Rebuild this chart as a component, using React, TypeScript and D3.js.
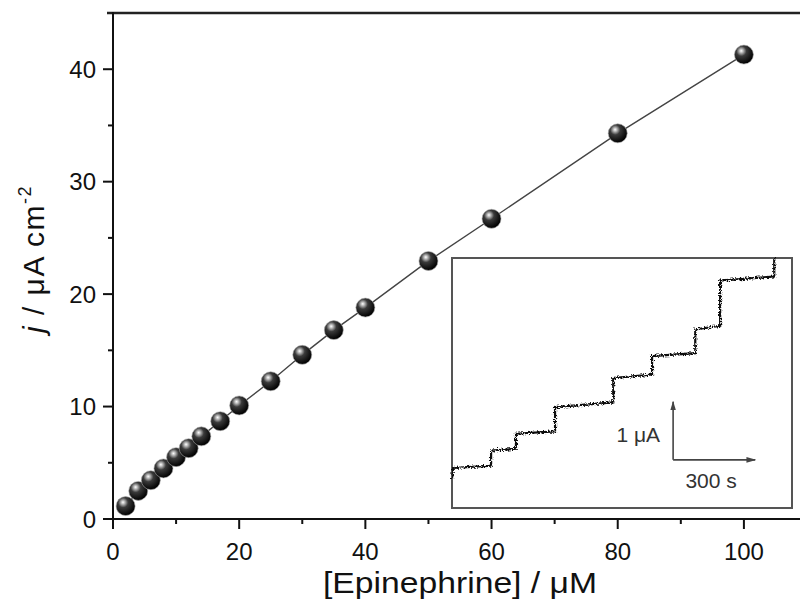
import React from "react";
import * as d3 from "d3";

// Main calibration data: [Epinephrine] (µM) vs current density j (µA cm^-2)
const concentrations = [2, 4, 6, 8, 10, 12, 14, 17, 20, 25, 30, 35, 40, 50, 60, 80, 100];
const currentDensity = [1.15, 2.5, 3.45, 4.5, 5.5, 6.3, 7.35, 8.7, 10.1, 12.25, 14.6, 16.8, 18.8, 22.95, 26.7, 34.3, 41.3];

const xMajorTicks = [0, 20, 40, 60, 80, 100];
const xMinorTicks = [10, 30, 50, 70, 90];
const yMajorTicks = [0, 10, 20, 30, 40];
const yMinorTicks = [5, 15, 25, 35];

// Inset amperometric trace (time s, current µA)
const stepTimes = [0, 143, 234, 377, 590, 732, 890, 981];
const stepEndTimes = [143, 234, 377, 590, 732, 890, 981, 1179];
const levelStart = [0.17, 0.47, 0.76, 1.22, 1.72, 2.10, 2.56, 3.40];
const levelEnd = [0.21, 0.50, 0.80, 1.30, 1.78, 2.15, 2.62, 3.47];
const traceStart = -0.02;
const traceFinal = 3.79;
const scaleBarTime = 809;
const scaleBarCurrent = 0.31;

export default function App() {
  const x = d3.scaleLinear().domain([0, 110]).range([113, 807]);
  const y = d3.scaleLinear().domain([0, 45]).range([519, 13]);

  const ix = d3.scaleLinear().domain([0, 1244]).range([452, 792]);
  const iy = d3.scaleLinear().domain([-0.52, 3.79]).range([508, 258]);

  const pts = concentrations.map((c, i) => [c, currentDensity[i]] as [number, number]);
  const line = d3
    .line<[number, number]>()
    .x((d) => x(d[0]))
    .y((d) => y(d[1]));

  // build inset trace
  const tracePts: [number, number][] = [[0, traceStart]];
  stepTimes.forEach((t, i) => {
    tracePts.push([t + (i === 0 ? 4 : 0), levelStart[i]]);
    tracePts.push([stepEndTimes[i], levelEnd[i]]);
  });
  tracePts.push([stepEndTimes[stepEndTimes.length - 1], traceFinal]);
  const traceLine = d3
    .line<[number, number]>()
    .x((d) => ix(d[0]))
    .y((d) => iy(d[1]));

  const font = "'Liberation Sans', Arial, Helvetica, sans-serif";

  const sbX = ix(scaleBarTime);
  const sbY = iy(scaleBarCurrent);
  const sbTop = iy(scaleBarCurrent + 1);
  const sbRight = ix(scaleBarTime + 300);

  return (
    <svg
      width={800}
      height={602}
      style={{ position: "absolute", left: 0, top: 0, background: "#fff" }}
      fontFamily={font}
    >
      <defs>
        <radialGradient id="sphere" cx="38%" cy="34%" r="66%" fx="36%" fy="30%">
          <stop offset="0%" stopColor="#ffffff" />
          <stop offset="14%" stopColor="#bdbdbd" />
          <stop offset="40%" stopColor="#3a3a3a" />
          <stop offset="100%" stopColor="#000000" />
        </radialGradient>
        <filter id="noise" x="-5%" y="-5%" width="110%" height="110%">
          <feTurbulence type="fractalNoise" baseFrequency="0.7" numOctaves={2} seed={3} result="t" />
          <feDisplacementMap in="SourceGraphic" in2="t" scale={5} xChannelSelector="R" yChannelSelector="G" />
        </filter>
        <marker id="arrow" viewBox="0 0 10 10" refX={9} refY={5} markerWidth={6} markerHeight={6} orient="auto">
          <path d="M0,2 L10,5 L0,8 z" fill="#444" />
        </marker>
      </defs>

      {/* frame */}
      <line x1={107} x2={800} y1={y(45)} y2={y(45)} stroke="#222" strokeWidth={2.5} />
      <line x1={x(0)} x2={x(0)} y1={y(45) - 1} y2={y(0)} stroke="#111" strokeWidth={2} />
      <line x1={x(0)} x2={800} y1={y(0)} y2={y(0)} stroke="#111" strokeWidth={2} />

      {/* y ticks */}
      {yMajorTicks.map((t) => (
        <g key={"ym" + t}>
          <line x1={x(0) - 10} x2={x(0)} y1={y(t)} y2={y(t)} stroke="#111" strokeWidth={2} />
          <text x={96} y={y(t)} dy="0.36em" textAnchor="end" fontSize={24} fill="#111">
            {t}
          </text>
        </g>
      ))}
      {yMinorTicks.map((t) => (
        <line key={"yn" + t} x1={x(0) - 5} x2={x(0)} y1={y(t)} y2={y(t)} stroke="#111" strokeWidth={2} />
      ))}

      {/* x ticks */}
      {xMajorTicks.map((t) => (
        <g key={"xm" + t}>
          <line x1={x(t)} x2={x(t)} y1={y(0)} y2={y(0) + 10} stroke="#111" strokeWidth={2} />
          <text x={x(t)} y={560} textAnchor="middle" fontSize={24} fill="#111">
            {t}
          </text>
        </g>
      ))}
      {xMinorTicks.map((t) => (
        <line key={"xn" + t} x1={x(t)} x2={x(t)} y1={y(0)} y2={y(0) + 5} stroke="#111" strokeWidth={2} />
      ))}

      {/* axis titles */}
      <text
        x={460}
        y={593}
        textAnchor="middle"
        fontSize={29}
        fill="#111"
        textLength={274}
        lengthAdjust="spacingAndGlyphs"
      >
        [Epinephrine] / μM
      </text>
      <text
        transform="translate(44,259) rotate(-90)"
        textAnchor="middle"
        fontSize={30}
        fill="#111"
        letterSpacing={1.5}
      >
        <tspan fontStyle="italic">j</tspan>
        <tspan> / μA cm</tspan>
        <tspan fontSize={18} dy={-13}>-2</tspan>
      </text>

      {/* inset */}
      <rect x={452} y={258} width={340} height={250} fill="#fff" stroke="#555" strokeWidth={2} />
      <path
        d={traceLine(tracePts) || ""}
        fill="none"
        stroke="#111"
        strokeWidth={2.2}
        filter="url(#noise)"
      />
      <line x1={sbX} x2={sbX} y1={sbY} y2={sbTop} stroke="#444" strokeWidth={1.6} markerEnd="url(#arrow)" />
      <line x1={sbX} x2={sbRight} y1={sbY} y2={sbY} stroke="#444" strokeWidth={1.6} markerEnd="url(#arrow)" />
      <text x={sbX - 13} y={442} textAnchor="end" fontSize={21} fill="#333">
        1 μA
      </text>
      <text x={(sbX + sbRight) / 2 - 3} y={488} textAnchor="middle" fontSize={21} fill="#333">
        300 s
      </text>

      {/* calibration line & points */}
      <path d={line(pts) || ""} fill="none" stroke="#444" strokeWidth={1.4} />
      {pts.map((d, i) => (
        <circle
          key={i}
          cx={x(d[0])}
          cy={y(d[1])}
          r={9.5}
          fill="url(#sphere)"
          stroke="#aaa"
          strokeOpacity={0.6}
          strokeWidth={1}
        />
      ))}
    </svg>
  );
}
